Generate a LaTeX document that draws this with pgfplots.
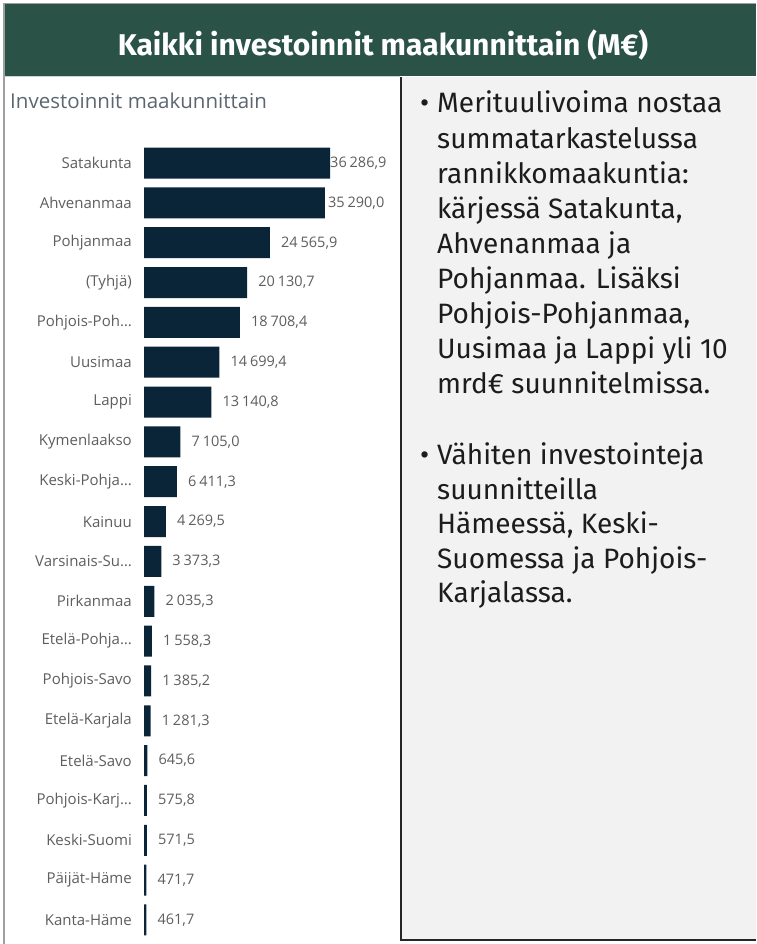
\documentclass[border=0pt]{standalone}
\usepackage{pgfplots}
\pgfplotsset{compat=1.18}
\usepackage{pgfplotstable}
\usepackage{fontspec}
\setmainfont{Open Sans}
\newfontfamily\plex{Fira Sans}
\definecolor{hdr}{HTML}{2A5246}
\definecolor{barc}{HTML}{0B2538}
\definecolor{lbl}{HTML}{605E5C}
\definecolor{ttl}{HTML}{5D6670}
\definecolor{panel}{HTML}{F2F2F2}
\definecolor{txt}{HTML}{1C1C1C}

\pgfplotstableread{
y v s
0 36286.9 0
1 35290.0 3
2 24565.9 11
3 20130.7 11
4 18708.4 11
5 14699.4 11
6 13140.8 11
7 7105.0 11
8 6411.3 11
9 4269.5 11
10 3373.3 11
11 2035.3 11
12 1558.3 11
13 1385.2 11
14 1281.3 11
15 645.6 11
16 575.8 11
17 571.5 11
18 471.7 11
19 461.7 11
}\data

\begin{document}
\begin{tikzpicture}[x=1pt,y=1pt]
\path[use as bounding box, fill=white] (0,0) rectangle (756,944);
\fill[hdr] (4,868) rectangle (756,940);
\draw[gray!75, line width=1.2pt] (4,0) -- (4,940.6) -- (756,940.6);
\fill[panel] (401,4) rectangle (756,867);
\draw[gray!35, line width=0.8pt] (4.6,867.4) -- (400,867.4);
\draw[black!85, line width=2pt] (401,867) -- (401,4) -- (756,4);

\node[anchor=base, inner sep=0pt, text=white, font=\plex\bfseries\fontsize{30}{34}\selectfont] at (383,888) {Kaikki investoinnit maakunnittain (M€)};

\node[anchor=base west, inner sep=0pt, text=ttl, font=\fontsize{20.5}{24}\selectfont] at (10,835) {Investoinnit maakunnittain};

\begin{axis}[
  at={(144pt,4.1pt)}, anchor=south west,
  scale only axis, width=256pt, height=796.8pt,
  xmin=0, xmax=49940, ymin=-0.5, ymax=19.5,
  xbar, bar width=31pt,
  axis line style={draw=none},
  xtick=\empty, ytick={0,...,19},
  yticklabels={{Kanta-Häme},{Päijät-Häme},{Keski-Suomi},{Pohjois-Karj…},{Etelä-Savo},{Etelä-Karjala},{Pohjois-Savo},{Etelä-Pohja…},{Pirkanmaa},{Varsinais-Su…},{Kainuu},{Keski-Pohja…},{Kymenlaakso},{Lappi},{Uusimaa},{Pohjois-Poh…},{(Tyhjä)},{Pohjanmaa},{Ahvenanmaa},{Satakunta}},
  major tick length=0pt,
  yticklabel style={font=\fontsize{15}{18}\selectfont, text=lbl, anchor=east, inner sep=0pt, xshift=-12pt},
  clip=false,
]
\addplot[fill=barc, draw=none,
  visualization depends on={\thisrow{s} \as \sh},
  point meta=\thisrow{v},
  nodes near coords,
  nodes near coords style={anchor=west, inner sep=0pt, xshift=\sh pt, text=lbl,
    font=\fontsize{14.5}{17}\selectfont,
    /pgf/number format/fixed, /pgf/number format/fixed zerofill,
    /pgf/number format/precision=1, /pgf/number format/use comma,
    /pgf/number format/1000 sep={\kern0.2em},
    /pgf/number format/assume math mode=true}
] table[x=v, y expr=19-\thisrow{y}] {\data};
\end{axis}

\begin{scope}[every node/.style={anchor=base west, inner sep=0pt, text=txt, font=\plex\fontsize{28}{34}\selectfont}]
\node at (420,831) {•};
\node at (437,831) {Merituulivoima nostaa};
\node at (437,795.9) {summatarkastelussa};
\node at (437,760.8) {rannikkomaakuntia:};
\node at (437,725.7) {kärjessä Satakunta,};
\node at (437,690.6) {Ahvenanmaa ja};
\node at (437,655.5) {Pohjanmaa. Lisäksi};
\node at (437,620.4) {Pohjois-Pohjanmaa,};
\node at (437,585.3) {Uusimaa ja Lappi yli 10};
\node at (437,550.2) {mrd€ suunnitelmissa.};
\node at (420,479) {•};
\node at (437,479) {Vähiten investointeja};
\node at (437,444.5) {suunnitteilla};
\node at (437,410) {Hämeessä, Keski-};
\node at (437,375.5) {Suomessa ja Pohjois-};
\node at (437,341) {Karjalassa.};
\end{scope}
\end{tikzpicture}
\end{document}
